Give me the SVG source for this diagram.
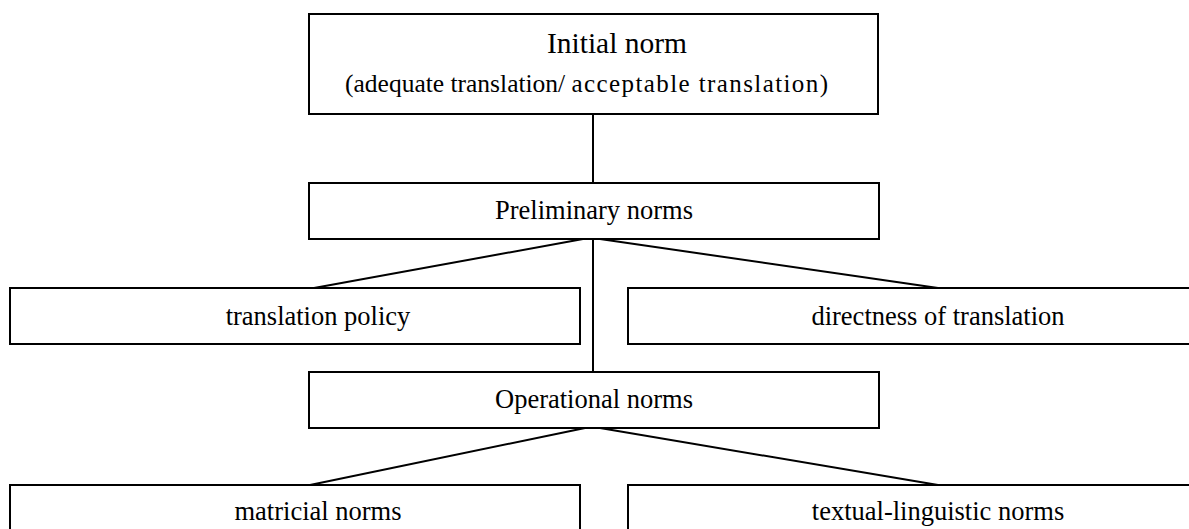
<svg xmlns="http://www.w3.org/2000/svg" width="1189" height="529" viewBox="0 0 1189 529">
<style>
.box{fill:#fff;stroke:#000;stroke-width:2}
.ln{stroke:#000;stroke-width:2;fill:none}
text{font-family:"Liberation Serif","Times New Roman",serif;fill:#000;text-anchor:middle}
.t{font-size:26.5px}
</style>
<rect width="1189" height="529" fill="#fff"/>
<g id="connectors">
<line class="ln" x1="593" y1="114" x2="593" y2="183"/>
<line class="ln" x1="593" y1="239" x2="593" y2="372"/>
<line class="ln" x1="583" y1="239" x2="314" y2="288"/>
<line class="ln" x1="600" y1="239" x2="938" y2="288"/>
<line class="ln" x1="585" y1="428" x2="310" y2="485"/>
<line class="ln" x1="600" y1="428" x2="938" y2="485"/>
</g>
<g id="initial-norm">
<rect class="box" x="309" y="14" width="569" height="100"/>
<text x="617" y="53" style="font-size:29.5px">Initial norm</text>
<text x="345" y="92" style="text-anchor:start"><tspan style="font-size:25.5px">(adequate translation/ </tspan><tspan style="font-size:25px;letter-spacing:1.4px">acceptable translation)</tspan></text>
</g>
<g id="preliminary-norms">
<rect class="box" x="309" y="183" width="570" height="56"/>
<text class="t" x="594" y="219">Preliminary norms</text>
</g>
<g id="translation-policy">
<rect class="box" x="10" y="288" width="570" height="56"/>
<text class="t" x="318" y="325">translation policy</text>
</g>
<g id="directness-of-translation">
<rect class="box" x="628" y="288" width="570" height="56"/>
<text class="t" x="938" y="325">directness of translation</text>
</g>
<g id="operational-norms">
<rect class="box" x="309" y="372" width="570" height="56"/>
<text class="t" x="594" y="408">Operational norms</text>
</g>
<g id="matricial-norms">
<rect class="box" x="10" y="485" width="570" height="60"/>
<text class="t" x="318" y="520">matricial norms</text>
</g>
<g id="textual-linguistic-norms">
<rect class="box" x="628" y="485" width="570" height="60"/>
<text class="t" x="938" y="520">textual-linguistic norms</text>
</g>
</svg>
